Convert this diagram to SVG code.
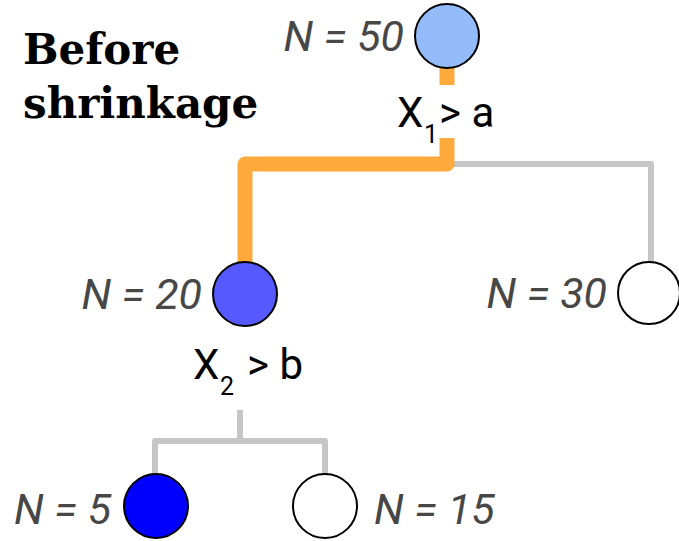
<svg xmlns="http://www.w3.org/2000/svg" width="679" height="541" viewBox="0 0 679 541">
<style>
.n{font-family:Roboto,"Liberation Sans",sans-serif;font-style:italic;font-size:43px;fill:#474747}
.s{font-family:Roboto,"Liberation Sans",sans-serif;font-size:42px;fill:#000}
.sub{font-family:Roboto,"Liberation Sans",sans-serif;font-size:25px;fill:#000}
.t{font-family:"DejaVu Serif",serif;font-weight:bold;font-size:42px;fill:#000}
.c{stroke:#000;stroke-width:2}
.g{fill:none;stroke:#c6c6c6;stroke-width:6;stroke-linejoin:round}
.o{fill:none;stroke:#ffaa3c;stroke-width:15;stroke-linejoin:round}
</style>
<rect width="679" height="541" fill="#fff"/>
<text class="t" x="23" y="64">Before</text>
<text class="t" x="23" y="118">shrinkage</text>
<g id="connectors">
<path class="g" d="M447,164 H651 V262"/>
<path class="o" d="M447,68 V85"/>
<path class="o" d="M447,138 V164 H245 V262"/>
<path class="g" d="M240,410 V441 M155,474 V441 H325 V474"/>
</g>
<g id="label1">
<text class="s" x="397" y="127">X</text>
<text class="sub" x="424" y="143">1</text>
<text class="s" x="439" y="127">&gt; a</text>
</g>
<g id="label2">
<text class="s" x="193" y="379">X</text>
<text class="sub" x="220" y="395">2</text>
<text class="s" x="247" y="379">&gt; b</text>
</g>
<g id="n50">
<circle class="c" cx="447" cy="36" r="32" fill="#94bbfa"/>
<text class="n" x="404" y="51" text-anchor="end">N = 50</text>
</g>
<g id="n20">
<circle class="c" cx="245" cy="294" r="32" fill="#5659fd"/>
<text class="n" x="202" y="309" text-anchor="end">N = 20</text>
</g>
<g id="n30">
<circle class="c" cx="649" cy="293" r="31" fill="#fff"/>
<text class="n" x="607" y="308" text-anchor="end">N = 30</text>
</g>
<g id="n5">
<circle class="c" cx="156" cy="506" r="32" fill="#0000ff"/>
<text class="n" x="14" y="524">N = 5</text>
</g>
<g id="n15">
<circle class="c" cx="325" cy="506" r="32" fill="#fff"/>
<text class="n" x="374" y="524">N = 15</text>
</g>
</svg>
